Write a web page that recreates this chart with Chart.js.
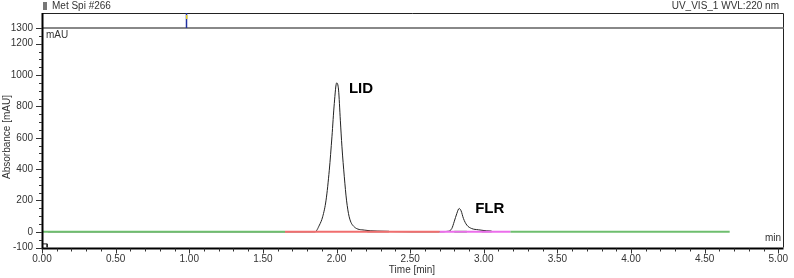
<!DOCTYPE html>
<html><head><meta charset="utf-8">
<script src="https://cdn.jsdelivr.net/npm/chart.js@4"></script>
<style>html,body{margin:0;padding:0;background:#fff}#wrap{width:794px;height:278px}</style>
</head><body><div id="wrap"><canvas id="c" width="794" height="278"></canvas></div>
<script>
// ---- data ----
const traceTime = [0.04, 1.00, 1.80, 1.854, 1.884, 1.906, 1.929, 1.951, 1.969, 1.985, 2.001, 2.014, 2.026, 2.037, 2.053, 2.068, 2.086, 2.12, 2.188, 2.277, 2.35, 2.50, 2.70, 2.761, 2.783, 2.799, 2.817, 2.833, 2.846, 2.862, 2.885, 2.918, 2.963, 3.02, 3.053];
const traceAbs  = [0, 0, 0, 0, 43, 96, 202, 393, 606, 819, 950, 904, 712, 542, 351, 202, 96, 32, 11, 4, 2, 0, 0, 4, 21, 64, 117, 149, 134, 85, 43, 21, 13, 6, 4];
const startTime = [0.0, 0.035, 0.035];
const startAbs  = [-77, -77, -100];
const baselineGreen1 = [[0.0, 0], [1.65, 0]];
const baselineRed    = [[1.65, 0], [2.70, 0]];
const baselineMag    = [[2.70, 0], [3.18, 0]];
const baselineGreen2 = [[3.18, 0], [4.67, 0]];
const baselineGreenS = [[2.80, 0], [2.885, 0]];
const darkSeg1 = [[2.21, 2], [2.356, 2]];
const darkSeg2 = [[2.986, 2], [3.053, 2]];
const peakNames = ["LID", "FLR"];
const peakTimes = [2.003, 2.833];
const peakApex  = [950, 149];
const injectTime = 0.975;
const yTickValues = [-100, 0, 200, 400, 600, 800, 1000, 1200, 1300];
const xTickValues = [0, 0.5, 1, 1.5, 2, 2.5, 3, 3.5, 4, 4.5, 5];

const FONT = "'Liberation Sans', Arial, sans-serif";
const toPts = a => a.map(p => ({x: p[0], y: p[1]}));
const seg = (pts, color, w) => ({data: toPts(pts), borderColor: color, borderWidth: w, pointRadius: 0, showLine: true, tension: 0, order: 1});

const decor = {
  id: 'decor',
  afterDraw(chart) {
    const ctx = chart.ctx, ca = chart.chartArea, xs = chart.scales.x, ys = chart.scales.y;
    ctx.save();
    // frame
    ctx.strokeStyle = '#222'; ctx.lineWidth = 1;
    ctx.beginPath(); ctx.moveTo(ca.left, 13.5); ctx.lineTo(783.5, 13.5); ctx.lineTo(783.5, ca.bottom); ctx.stroke();
    ctx.strokeStyle = '#888'; ctx.lineWidth = 2;
    ctx.beginPath(); ctx.moveTo(ca.left, 28); ctx.lineTo(783.5, 28); ctx.stroke();
    ctx.strokeStyle = '#000'; ctx.lineWidth = 2;
    ctx.beginPath(); ctx.moveTo(ca.left + 0.5, 13); ctx.lineTo(ca.left + 0.5, ca.bottom + 1); ctx.lineTo(783.5, ca.bottom + 1); ctx.stroke();
    // ticks
    ctx.strokeStyle = '#333'; ctx.lineWidth = 1;
    for (let v = -100; v <= 1300; v += 50) {
      const y = Math.round(ys.getPixelForValue(v)) + 0.5;
      const major = yTickValues.includes(v);
      ctx.beginPath(); ctx.moveTo(ca.left - (major ? 6 : 3), y); ctx.lineTo(ca.left, y); ctx.stroke();
    }
    for (let i = 0; i <= 50; i++) {
      const v = i / 10;
      const x = Math.round(xs.getPixelForValue(v)) + 0.5;
      const major = i % 5 === 0;
      ctx.beginPath(); ctx.moveTo(x, ca.bottom + 1); ctx.lineTo(x, ca.bottom + (major ? 6 : 4)); ctx.stroke();
    }
    // injection marker
    const ix = Math.round(xs.getPixelForValue(injectTime)) + 0.5;
    ctx.strokeStyle = '#2030a0'; ctx.lineWidth = 1.5;
    ctx.beginPath(); ctx.moveTo(ix, 13); ctx.lineTo(ix, 28); ctx.stroke();
    ctx.fillStyle = '#e8d020'; ctx.fillRect(ix - 0.5, 15, 1.5, 4);
    // texts
    ctx.fillStyle = '#333'; ctx.font = '10px ' + FONT; ctx.textBaseline = 'middle';
    ctx.textAlign = 'left';
    ctx.fillText('Met Spi #266', 52, 6);
    ctx.fillStyle = '#777'; ctx.fillRect(43, 2, 4, 8);
    ctx.fillStyle = '#333';
    ctx.textAlign = 'right';
    ctx.fillText('UV_VIS_1 WVL:220 nm', 779, 6);
    ctx.textAlign = 'left';
    ctx.fillText('mAU', 46, 35);
    ctx.fillText('min', 765, 238);
    ctx.textAlign = 'center';
    ctx.fillText('Time [min]', 412, 270);
    ctx.save(); ctx.translate(7, 137); ctx.rotate(-Math.PI / 2); ctx.fillText('Absorbance [mAU]', 0, 0); ctx.restore();
    // peak labels
    ctx.fillStyle = '#000'; ctx.font = 'bold 15px ' + FONT; ctx.textAlign = 'left';
    ctx.fillText(peakNames[0], xs.getPixelForValue(peakTimes[0]) + 12, ys.getPixelForValue(peakApex[0]) + 6);
    ctx.fillText(peakNames[1], xs.getPixelForValue(peakTimes[1]) + 16, ys.getPixelForValue(peakApex[1]) + 0);
    ctx.restore();
  }
};

new Chart(document.getElementById('c'), {
  type: 'scatter',
  data: {
    datasets: [
      {data: traceTime.map((t, i) => ({x: t, y: traceAbs[i]})), borderColor: '#222', borderWidth: 1, pointRadius: 0, showLine: true, cubicInterpolationMode: 'monotone', order: 10},
      seg(baselineGreen1, 'rgb(110,190,110)', 2),
      seg(baselineRed, 'rgb(240,110,110)', 2),
      seg(baselineMag, 'rgb(235,110,235)', 2),
      seg(baselineGreen2, 'rgb(110,190,110)', 2),
      seg(baselineGreenS, 'rgb(110,190,110)', 2),
      seg(darkSeg1, '#333', 1.5),
      seg(darkSeg2, '#333', 1.5),
      {data: startTime.map((t, i) => ({x: t, y: startAbs[i]})), borderColor: '#222', borderWidth: 1, pointRadius: 0, showLine: true, tension: 0, order: 10}
    ]
  },
  options: {
    responsive: false, animation: false, devicePixelRatio: 1,
    layout: {padding: {top: 28, right: 10.5, left: 0, bottom: 0}},
    plugins: {legend: {display: false}, tooltip: {enabled: false}},
    scales: {
      x: {
        type: 'linear', min: 0, max: 5,
        afterFit: s => { s.height = 30.5; },
        afterBuildTicks: s => { s.ticks = xTickValues.map(v => ({value: v})); },
        grid: {display: false, drawTicks: false}, border: {display: false},
        ticks: {padding: 6, color: '#333', font: {family: FONT, size: 10}, maxRotation: 0, autoSkip: false, callback: v => Number(v).toFixed(2)}
      },
      y: {
        type: 'linear', min: -100, max: 1300,
        afterFit: s => { s.width = 42; },
        afterBuildTicks: s => { s.ticks = yTickValues.map(v => ({value: v})); },
        grid: {display: false, drawTicks: false}, border: {display: false},
        ticks: {padding: 9, color: '#333', font: {family: FONT, size: 10}, autoSkip: false, callback: v => String(v)}
      }
    }
  },
  plugins: [decor]
});
</script></body></html>
